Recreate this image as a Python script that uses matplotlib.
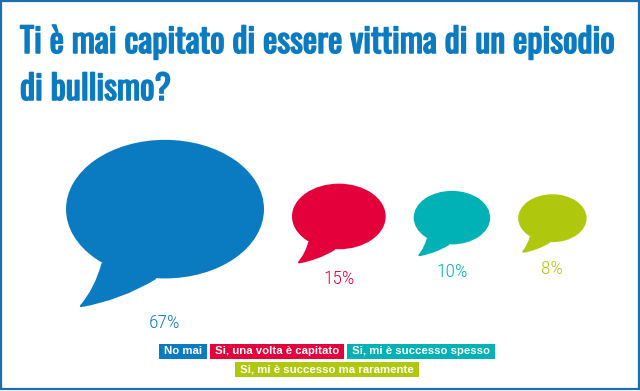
import numpy as np
import matplotlib
matplotlib.use("Agg")
import matplotlib.pyplot as plt
import matplotlib.patheffects as pe
from matplotlib.patches import Ellipse, PathPatch, Rectangle
from matplotlib.path import Path

# data
title_lines = ["Ti è mai capitato di essere vittima di un episodio", "di bullismo?"]
categories = ["No mai", "Si, una volta è capitato", "Si, mi è successo spesso",
              "Si, mi è successo ma raramente"]
values = [67, 15, 10, 8]
colors = ["#0b7bc1", "#e3003b", "#00b2b5", "#afc80d"]
legend_rows = [[0, 1, 2], [3]]

W, H = 640, 391
fig = plt.figure(figsize=(W / 100, H / 100), dpi=100)
ax = fig.add_axes([0, 0, 1, 1])
ax.set_xlim(0, W)
ax.set_ylim(H, 0)
ax.axis("off")

# frame
ax.add_patch(Rectangle((1, 1), W - 2.5, H - 3, fill=False, ec="#1c6fae", lw=1.6))

# title (stroke to thicken the regular weight)
title_font = ["Oswald", "Roboto Condensed", "DejaVu Sans"]
for i, line in enumerate(title_lines):
    ax.text(20, 53 + i * 47, line, family=title_font, fontweight="bold", fontsize=24.5,
            color="#0b7bc1", ha="left", va="baseline",
            path_effects=[pe.withStroke(linewidth=1.1, foreground="#0b7bc1")])

# speech bubbles, area proportional to value
big_w = 198
x = 66
gap = 28
# tail outline in units of the ellipse semi-axes (y down)
tail = [(-0.63, 0.78), (-0.70, 1.15), (-0.85, 1.40), (-0.45, 1.30), (-0.10, 1.0), (0, 0)]
codes = [Path.MOVETO, Path.CURVE3, Path.CURVE3, Path.CURVE3, Path.CURVE3, Path.LINETO]
pct_font = ["Open Sans Condensed Light", "Roboto Condensed", "DejaVu Sans"]
for val, col in zip(values, colors):
    w = big_w * np.sqrt(val / values[0])
    h = 0.70 * w
    cx = x + w / 2
    cy = 223 - 0.07 * w
    a, b = w / 2, h / 2
    pts = [(cx + u * a, cy + v * b) for u, v in tail]
    ax.add_patch(PathPatch(Path(pts, codes), fc=col, ec=col, lw=1.5, joinstyle="round"))
    ax.add_patch(Ellipse((cx, cy), w, h, fc=col, ec="none"))
    ax.text(cx, cy + 1.4 * b + 17, f"{val}%", family=pct_font,
            fontweight=300, fontsize=14, color=col, ha="center", va="center")
    x += w + gap

# legend: coloured boxes with white labels
fig.canvas.draw()
r = fig.canvas.get_renderer()
pad = 5
box_h = 15
row_y = [351.5, 369.5]
for row, cy in zip(legend_rows, row_y):
    texts = []
    for i in row:
        t = ax.text(0, cy, categories[i], family=["Liberation Sans", "DejaVu Sans"],
                    fontweight="bold", fontsize=8.2, color="white", ha="left", va="center", zorder=3)
        texts.append(t)
    widths = [t.get_window_extent(r).width + 2 * pad for t in texts]
    total = sum(widths) + 3 * (len(widths) - 1)
    left = 327 - total / 2
    for t, bw, i in zip(texts, widths, row):
        ax.add_patch(Rectangle((left, cy - box_h / 2), bw, box_h, fc=colors[i], ec="none", zorder=2))
        t.set_x(left + pad)
        left += bw + 3

fig.savefig("out.png", dpi=100)
